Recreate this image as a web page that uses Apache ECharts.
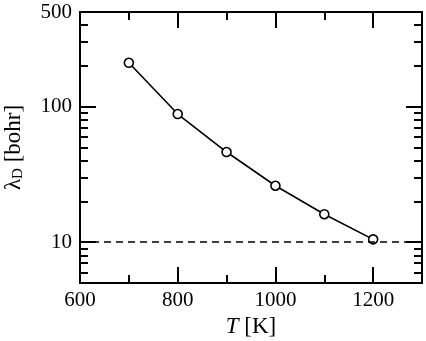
<!DOCTYPE html>
<html><head><meta charset="utf-8">
<script src="https://cdn.jsdelivr.net/npm/echarts@6/dist/echarts.min.js"></script>
<style>html,body{margin:0;padding:0;background:#fff}#c{width:426px;height:341px}</style>
</head><body><div id="c"></div>
<script>
const temperatures = [700, 800, 900, 1000, 1100, 1200];
const lambdaD = [211, 88.3, 46.3, 26.1, 16.1, 10.5];
const refLevel = 10;
const xMajorTicks = [600, 800, 1000, 1200];
const xMinorTicks = [700, 900, 1100, 1300];
const yLabels = [10, 100, 500];
const yMajorTicks = [10, 100];
const yMinorTicks = [6, 7, 8, 9, 20, 30, 40, 50, 60, 70, 80, 90, 200, 300, 400];

const FONT = '"Liberation Serif", "DejaVu Serif", serif';
const chart = echarts.init(document.getElementById('c'), null, {renderer: 'canvas'});

function xAxis(pos, ticks, len, labels) {
  return {
    type: 'value', position: pos, min: 600, max: 1300,
    axisLine: {show: true, onZero: false, lineStyle: {color: '#000', width: 2}},
    axisTick: {show: true, inside: true, length: len, customValues: ticks, lineStyle: {color: '#000', width: 2}},
    axisLabel: labels ? {show: true, customValues: labels, formatter: v => String(v), color: '#000', fontFamily: FONT, fontSize: 21, margin: 7} : {show: false},
    splitLine: {show: false}
  };
}
function yAxis(pos, ticks, len, labels) {
  return {
    type: 'log', logBase: 10, position: pos, min: 5, max: 500,
    axisLine: {show: true, onZero: false, lineStyle: {color: '#000', width: 2}},
    axisTick: {show: true, inside: true, length: len, customValues: ticks, lineStyle: {color: '#000', width: 2}},
    axisLabel: labels ? {show: true, customValues: labels, formatter: v => String(v), color: '#000', fontFamily: FONT, fontSize: 21, margin: 8} : {show: false},
    splitLine: {show: false}
  };
}

const xs = [
  Object.assign(xAxis('bottom', xMajorTicks, 16, xMajorTicks), {
    name: '{i|T} [K]', nameLocation: 'middle', nameGap: 30,
    nameTextStyle: {color: '#000', fontFamily: FONT, fontSize: 23, rich: {i: {fontStyle: 'italic', fontFamily: FONT, fontSize: 23, color: '#000'}}}
  }),
  xAxis('bottom', xMinorTicks, 8, null),
  xAxis('top', xMajorTicks, 16, null),
  xAxis('top', xMinorTicks, 8, null)
];
const ys = [
  Object.assign(yAxis('left', yMajorTicks, 16, yLabels), {
    name: '{l|λ}{s|D} [bohr]', nameLocation: 'middle', nameGap: 54,
    nameTextStyle: {color: '#000', fontFamily: FONT, fontSize: 23,
      rich: {l: {fontFamily: FONT, fontSize: 23, color: '#000'},
             s: {fontFamily: FONT, fontSize: 15, color: '#000', padding: [10, 0, 0, 0]}}}
  }),
  yAxis('left', yMinorTicks, 8, null),
  yAxis('right', yMajorTicks, 16, null),
  yAxis('right', yMinorTicks, 8, null)
];

chart.setOption({
  animation: false,
  backgroundColor: '#fff',
  grid: {left: 80, right: 4, top: 12, bottom: 58, containLabel: false, outerBoundsMode: 'none'},
  xAxis: xs,
  yAxis: ys,
  series: [{
    type: 'line',
    data: temperatures.map((t, i) => [t, lambdaD[i]]),
    xAxisIndex: 0, yAxisIndex: 0,
    symbol: 'circle', symbolSize: 9,
    itemStyle: {color: '#fff', borderColor: '#000', borderWidth: 1.6},
    lineStyle: {color: '#000', width: 1.6},
    markLine: {
      silent: true, symbol: 'none', label: {show: false},
      lineStyle: {color: '#000', width: 1.6, type: [7, 5]},
      data: [{yAxis: refLevel}]
    }
  }]
});
</script></body></html>
